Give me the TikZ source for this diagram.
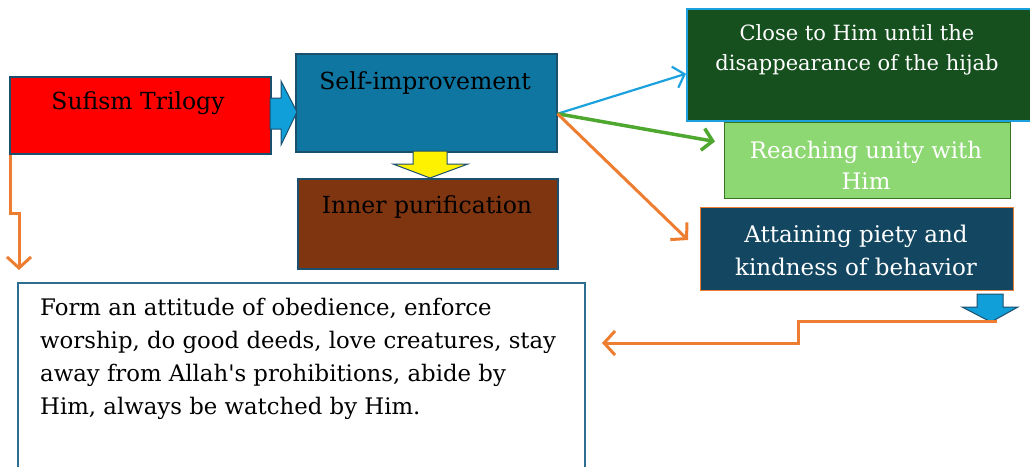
\documentclass[tikz,border=0pt]{standalone}
\usepackage{fontspec}
\setmainfont{DejaVu Serif}
\newfontfamily\apfont{DejaVu Serif}
\usetikzlibrary{arrows.meta,calc}
\definecolor{bdark}{HTML}{1B4F6E}
\definecolor{sired}{HTML}{FF0000}
\definecolor{siblue}{HTML}{0F76A1}
\definecolor{ipbrown}{HTML}{7E3510}
\definecolor{dkgreen}{HTML}{16501E}
\definecolor{ltgreen}{HTML}{8ED873}
\definecolor{navy}{HTML}{134761}
\definecolor{orng}{HTML}{ED7D31}
\definecolor{lblue}{HTML}{1BA1DD}
\definecolor{cgreen}{HTML}{4EA72E}
\definecolor{barrow}{HTML}{109FD8}
\definecolor{bigborder}{HTML}{2D6D92}
\begin{document}
\begin{tikzpicture}[x=1pt,y=-1pt,
  box/.style={draw=bdark,line width=1.5pt,anchor=north west,inner sep=0pt},
  lbl/.style={inner sep=0pt,font=\fontsize{23.5}{28}\selectfont,align=center},
  wlbl/.style={inner sep=0pt,font=\fontsize{21}{30}\selectfont,align=center,text=white},
  conn/.style={line width=3pt,-{Straight Barb[length=11pt,width=24pt,line width=3pt]}},
  blockarrow/.style={line width=1pt,draw=bdark}]
\useasboundingbox (0,0) rectangle (1030,466);
% boxes
\node[box,fill=sired,minimum width=261pt,minimum height=77pt] (st) at (9,76) {};
\node[lbl] (stt) at (138,103) {Sufism Trilogy};
\node[box,fill=siblue,minimum width=261pt,minimum height=98pt] (si) at (295,53) {};
\node[lbl] (sit) at (425,83) {Self-improvement};
\node[box,fill=ipbrown,minimum width=260pt,minimum height=90pt] (ip) at (297,178) {};
\node[lbl] (ipt) at (427,207) {Inner purification};
\node[box,draw=lblue,fill=dkgreen,minimum width=346pt,minimum height=112pt] (ch) at (686,8) {};
\node[wlbl] (cht) at (857,50) {Close to Him until the\\disappearance of the hijab};
\node[box,draw=cgreen!70!black,line width=1pt,fill=ltgreen,minimum width=286pt,minimum height=76pt] (ru) at (724,122) {};
\node[wlbl,font=\fontsize{22.8}{31}\selectfont] (rut) at (866,165) {Reaching unity with\\Him};
\node[box,draw=orng,line width=1pt,fill=navy,minimum width=313pt,minimum height=83pt] (ap) at (700,207) {};
\node[wlbl,font=\fontsize{23}{33}\selectfont] (apt) at (856,250) {Attaining piety and\\kindness of behavior};
\node[box,draw=bigborder,fill=white,minimum width=567pt,minimum height=190pt] (fa) at (17,282) {};
\node[inner sep=0pt,anchor=north west,align=left,font=\fontsize{22.8}{33}\selectfont] (fat) at (40,298)
 {Form an attitude of obedience, enforce\\worship, do good deeds, love creatures, stay\\away from Allah{\apfont'}s prohibitions, abide by\\Him, always be watched by Him.};
% block arrows
\draw[blockarrow,fill=barrow] (270,98) -- (281,98) -- (281,81) -- (297,112) -- (281,145) -- (281,129) -- (270,129) -- cycle;
\draw[blockarrow,fill=yellow] (413,151) -- (413,164) -- (393,164) -- (430,178) -- (468,164) -- (447,164) -- (447,151) -- cycle;
\draw[blockarrow,fill=barrow] (977,294) -- (977,307) -- (962,307) -- (991,322) -- (1018,307) -- (1003,307) -- (1003,294) -- cycle;
% connectors
\coordinate (sio) at ($(si.east)+(0,11)$);
\coordinate (chin) at ($(ch.west)+(0,9)$);
\coordinate (ruin) at ($(ru.west)+(-9,-19)$);
\coordinate (apin) at ($(ap.north west)+(-12,33)$);
\draw[conn,line width=2.2pt,draw=lblue,-{Straight Barb[length=10pt,width=22pt,line width=2.2pt]}] (sio) -- (chin);
\draw[conn,line width=3.5pt,draw=cgreen,-{Straight Barb[length=10pt,width=22pt,line width=3.5pt]}] (sio) -- (ruin);
\draw[conn,draw=orng] (sio) -- (apin);
\coordinate (stout) at ($(st.south west)+(1,0)$);
\coordinate (fain) at ($(fa.north west)+(2,-12)$);
\draw[conn,draw=orng] (stout) -- (10,213) -- (19,213) -- (fain);
\coordinate (apout) at (997,321);
\coordinate (faarr) at (602,343);
\draw[conn,draw=orng] (apout) -- (798,321) -- (798,343) -- (faarr);
\end{tikzpicture}
\end{document}
